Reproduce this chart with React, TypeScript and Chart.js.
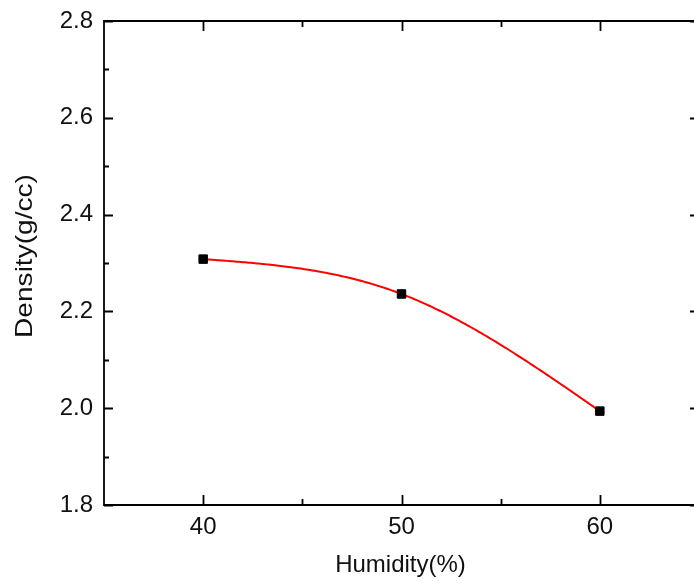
import React, { useEffect, useRef } from "react";
import { Chart, registerables } from "chart.js";

Chart.register(...registerables);

const humidity = [40, 50, 60];
const density = [2.308, 2.236, 1.994];
const xMajorTicks = [40, 50, 60];
const xMinorTicks = [45, 55];
const yMajorTicks = [1.8, 2.0, 2.2, 2.4, 2.6, 2.8];
const yMinorTicks = [1.9, 2.1, 2.3, 2.5, 2.7];
const xTitle = "Humidity(%)";
const yTitle = "Density(g/cc)";

const FONT = "'Liberation Sans', Arial, sans-serif";

// natural cubic spline through the data (as the original plotting software draws it)
function naturalSpline(xs: number[], ys: number[]) {
  const n = xs.length;
  const h: number[] = [];
  for (let i = 0; i < n - 1; i++) h.push(xs[i + 1] - xs[i]);
  const a: number[] = new Array(n).fill(0);
  const b: number[] = new Array(n).fill(1);
  const c: number[] = new Array(n).fill(0);
  const d: number[] = new Array(n).fill(0);
  for (let i = 1; i < n - 1; i++) {
    a[i] = h[i - 1] / 6;
    b[i] = (h[i - 1] + h[i]) / 3;
    c[i] = h[i] / 6;
    d[i] = (ys[i + 1] - ys[i]) / h[i] - (ys[i] - ys[i - 1]) / h[i - 1];
  }
  // Thomas algorithm
  const cp = new Array(n).fill(0);
  const dp = new Array(n).fill(0);
  cp[0] = c[0] / b[0];
  dp[0] = d[0] / b[0];
  for (let i = 1; i < n; i++) {
    const m = b[i] - a[i] * cp[i - 1];
    cp[i] = c[i] / m;
    dp[i] = (d[i] - a[i] * dp[i - 1]) / m;
  }
  const M = new Array(n).fill(0);
  M[n - 1] = dp[n - 1];
  for (let i = n - 2; i >= 0; i--) M[i] = dp[i] - cp[i] * M[i + 1];
  return (x: number) => {
    let i = 0;
    while (i < n - 2 && x > xs[i + 1]) i++;
    const hi = h[i];
    const A = (xs[i + 1] - x) / hi;
    const B = (x - xs[i]) / hi;
    return (
      A * ys[i] +
      B * ys[i + 1] +
      ((A * A * A - A) * M[i] + (B * B * B - B) * M[i + 1]) * (hi * hi) / 6
    );
  };
}

const splinePlugin = {
  id: "splineLine",
  beforeDatasetsDraw(chart: any) {
    const { ctx } = chart;
    const xs = chart.scales.x;
    const ys = chart.scales.y;
    const f = naturalSpline(humidity, density);
    const x0 = humidity[0];
    const x1 = humidity[humidity.length - 1];
    const steps = 200;
    ctx.save();
    ctx.strokeStyle = "#ff0000";
    ctx.lineWidth = 2;
    ctx.lineJoin = "round";
    ctx.beginPath();
    for (let k = 0; k <= steps; k++) {
      const x = x0 + ((x1 - x0) * k) / steps;
      const px = xs.getPixelForValue(x);
      const py = ys.getPixelForValue(f(x));
      if (k === 0) ctx.moveTo(px, py);
      else ctx.lineTo(px, py);
    }
    ctx.stroke();
    ctx.restore();
  },
};

const framePlugin = {
  id: "frameTicks",
  afterDraw(chart: any) {
    const { ctx, chartArea } = chart;
    const xs = chart.scales.x;
    const ys = chart.scales.y;
    const { left, right, top, bottom } = chartArea;
    ctx.save();
    ctx.strokeStyle = "#000";
    ctx.lineWidth = 1.8;
    ctx.beginPath();
    ctx.rect(left, top, right - left, bottom - top);
    ctx.stroke();
    ctx.beginPath();
    const majorX = 10, minorX = 6, majorY = 9, minorY = 5;
    xMajorTicks.forEach((v) => {
      const p = Math.round(xs.getPixelForValue(v)) + 0.5;
      ctx.moveTo(p, bottom); ctx.lineTo(p, bottom - majorX);
      ctx.moveTo(p, top); ctx.lineTo(p, top + majorX);
    });
    xMinorTicks.forEach((v) => {
      const p = Math.round(xs.getPixelForValue(v)) + 0.5;
      ctx.moveTo(p, bottom); ctx.lineTo(p, bottom - minorX);
      ctx.moveTo(p, top); ctx.lineTo(p, top + minorX);
    });
    yMajorTicks.forEach((v) => {
      const p = Math.round(ys.getPixelForValue(v)) + 0.5;
      ctx.moveTo(left, p); ctx.lineTo(left + majorY, p);
      ctx.moveTo(right, p); ctx.lineTo(right - majorY, p);
    });
    yMinorTicks.forEach((v) => {
      const p = Math.round(ys.getPixelForValue(v)) + 0.5;
      ctx.moveTo(left, p); ctx.lineTo(left + minorY, p);
      ctx.moveTo(right, p); ctx.lineTo(right - minorY, p);
    });
    ctx.stroke();

    // axis titles
    ctx.fillStyle = "#111";
    ctx.font = `24px ${FONT}`;
    ctx.textAlign = "center";
    ctx.textBaseline = "middle";
    ctx.fillText(xTitle, (left + right) / 2 - 1, 565);
    ctx.translate(24, 256);
    ctx.rotate(-Math.PI / 2);
    ctx.scale(1.17, 1);
    ctx.fillText(yTitle, 0, 1);
    ctx.restore();
  },
};

export default function App() {
  const ref = useRef<HTMLCanvasElement | null>(null);
  useEffect(() => {
    if (!ref.current) return;
    const chart = new Chart(ref.current, {
      type: "line",
      data: {
        datasets: [
          {
            data: humidity.map((x, i) => ({ x, y: density[i] })),
            showLine: false,
            pointStyle: "rect",
            pointRadius: 6,
            pointBackgroundColor: "#000",
            pointBorderColor: "#000",
            pointBorderWidth: 1,
            fill: false,
          },
        ],
      },
      options: {
        animation: false,
        responsive: false,
        events: [],
        layout: { padding: { left: 0, top: 21, right: 21, bottom: 0 } },
        plugins: { legend: { display: false }, tooltip: { enabled: false } },
        scales: {
          x: {
            type: "linear",
            min: 35,
            max: 65,
            grid: { display: false, drawTicks: false },
            border: { display: false },
            afterBuildTicks: (s: any) => {
              s.ticks = xMajorTicks.map((v) => ({ value: v }));
            },
            afterFit: (s: any) => {
              s.height = 79;
              s.paddingLeft = 0;
              s.paddingRight = 0;
            },
            ticks: {
              padding: 8,
              color: "#111",
              font: { family: FONT, size: 24 },
              callback: (v: any) => String(v),
            },
          },
          y: {
            min: 1.8,
            max: 2.8,
            grid: { display: false, drawTicks: false },
            border: { display: false },
            afterBuildTicks: (s: any) => {
              s.ticks = yMajorTicks.map((v) => ({ value: v }));
            },
            afterFit: (s: any) => {
              s.width = 104;
              s.paddingTop = 0;
              s.paddingBottom = 0;
            },
            ticks: {
              padding: 11,
              color: "#111",
              font: { family: FONT, size: 24 },
              callback: (v: any) => Number(v).toFixed(1),
            },
          },
        },
      },
      plugins: [splinePlugin, framePlugin],
    });
    return () => chart.destroy();
  }, []);
  return (
    <div
      style={{
        position: "fixed",
        left: 0,
        top: 0,
        width: 694,
        height: 584,
        overflow: "hidden",
        background: "#fff",
      }}
    >
      <canvas ref={ref} width={720} height={584} style={{ display: "block" }} />
    </div>
  );
}
